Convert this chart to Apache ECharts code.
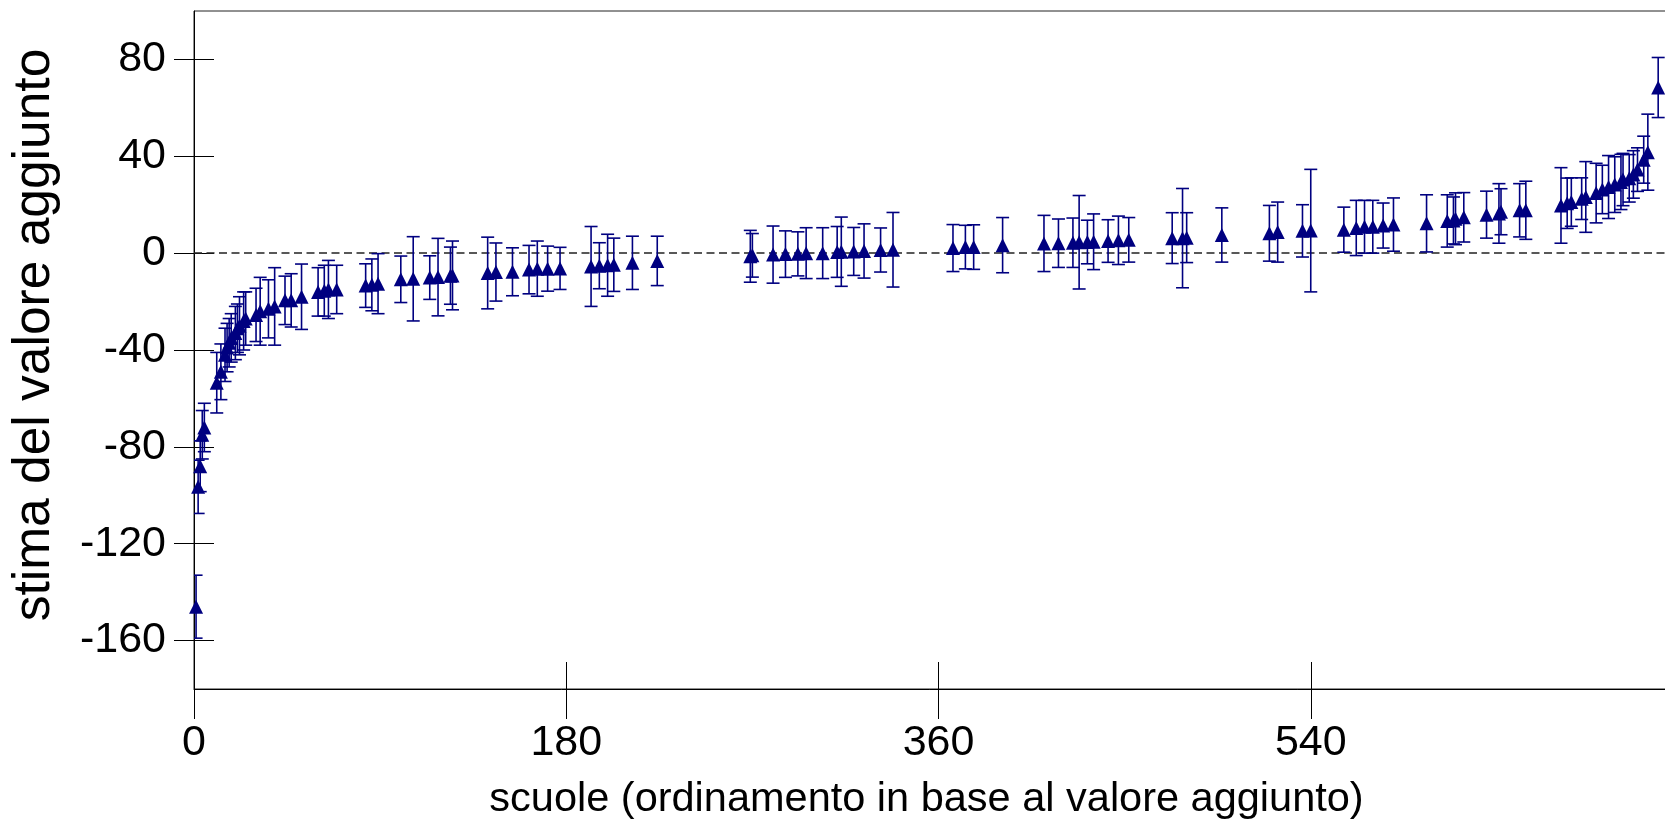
<!DOCTYPE html>
<html>
<head>
<meta charset="utf-8">
<script src="https://cdn.jsdelivr.net/npm/echarts@6/dist/echarts.min.js"></script>
<style>
html,body{margin:0;padding:0;background:#fff;}
#chart{width:1665px;height:825px;}
</style>
</head>
<body>
<div id="chart"></div>
<script>
// School rank (ordered by value added)
const rank = [
  1,2,3,4,5,11,13,15,16,17,18,20,21,22,24,25,30,32,36,39,44,47,52,60,63,65,69,
  83,86,89,100,106,114,118,124,125,142,146,154,162,166,171,177,192,196,200,203,212,224,
  269,270,280,286,292,296,304,311,313,319,324,332,338,
  367,373,377,391,
  411,418,425,428,432,435,442,447,452,
  473,478,480,497,
  520,524,536,540,
  556,562,566,570,575,580,
  596,606,609,610,614,
  625,631,632,641,644,
  661,664,666,671,673,678,681,684,687,690,691,694,696,698,701,703,708
];
// Estimated value added
const estimate = [
  -146,-96.5,-88,-75,-72,-53.5,-49,-42,-39,-37,-35,-33,-31,-30,-28,-27,-25.5,-24,-23,-22,-19.5,-19.5,-18,-16,-15.5,-15,-15,
  -13.4,-13.1,-12.6,-10.8,-10.6,-10.1,-9.9,-9.3,-9.2,-8.2,-7.8,-7.7,-6.8,-6.4,-6.4,-6.3,-5.5,-5.2,-5,-4.8,-4,-3.2,
  -1.3,-0.9,-0.6,-0.4,-0.3,0,0,0.5,0.6,0.7,0.9,1.3,1.4,
  2.1,2.5,2.5,3.3,
  4,4.1,4.3,4.5,4.6,4.7,5,5.3,5.5,
  6.2,6.2,6.4,7.5,
  8.2,8.7,9.2,9.3,
  9.7,10.4,10.9,10.9,11.4,11.8,
  12.3,13.3,13.5,14.2,14.8,
  15.9,16.4,17.1,17.7,17.7,
  19.7,20.6,21.1,22.5,23.2,24.8,26.3,27.3,28.3,29.4,30.4,30.9,32.5,34.5,38.6,41.7,68.4
];
// Half width of the confidence interval
const halfCI = [
  13,11,10.5,10,10,12.5,11.5,11,10,10,10,11,10,12,12,11,11,14,12,16,10,11,13.5,10,10.5,12,10,
  9,10.7,12.4,9.6,17.4,9,16,11.8,14.2,14.8,12,9.9,10,11.4,9.3,8.7,16.5,9.5,12.8,11,11,10.2,
  10.7,9,11.8,9.6,9.1,10.5,10.5,10.5,14.3,9.9,11.2,9.1,15.4,
  9.7,9,9.2,11.4,
  11.6,10,10.2,19.3,9,11.5,8.8,10,9.2,
  10.5,20.5,10.3,11.2,
  11.5,12.4,10.8,25.3,
  9.3,11.4,10.9,10.9,9.3,11,
  11.8,10.8,9.7,10.7,10.2,
  9.7,12.3,9.5,11,12,
  15.6,10.4,10,8.6,14.6,12.3,10,13,11.5,11.4,10.8,9.8,9.8,9,9.7,15.7,12.4
];
const xTicks = [0, 180, 360, 540];
const yTicks = [-160, -120, -80, -40, 0, 40, 80];
const xTitle = 'scuole (ordinamento in base al valore aggiunto)';
const yTitle = 'stima del valore aggiunto';

const FONT = '"Liberation Sans", Arial, Helvetica, sans-serif';
const NAVY = '#000080';

const pointData = rank.map((r, i) => [r, estimate[i]]);
const barData = rank.map((r, i) => [r, estimate[i] - halfCI[i], estimate[i] + halfCI[i]]);

const chart = echarts.init(document.getElementById('chart'), null, {renderer: 'canvas'});

const option = {
  animation: false,
  backgroundColor: '#ffffff',
  grid: {
    left: 194, top: 11, width: 1489, height: 678,
    outerBoundsMode: 'none', containLabel: false,
    show: true, borderColor: '#222', borderWidth: 1, backgroundColor: 'transparent'
  },
  xAxis: [
    {
      type: 'value', min: 0, max: 720, interval: 180, position: 'bottom',
      axisLine: {show: true, onZero: false, lineStyle: {color: '#000', width: 1}},
      axisTick: {show: true, inside: false, length: 30, customValues: xTicks, lineStyle: {color: '#000', width: 1}},
      axisLabel: {customValues: xTicks, margin: 33, fontSize: 43, color: '#000', fontFamily: FONT},
      splitLine: {show: false},
      name: xTitle, nameLocation: 'middle', nameGap: 90,
      nameTextStyle: {fontSize: 41.5, color: '#000', fontFamily: FONT, padding: [0, 24, 0, 0]}
    },
    {
      type: 'value', min: 0, max: 720, interval: 180, position: 'bottom',
      axisLine: {show: false, onZero: false},
      axisTick: {show: true, inside: true, length: 27, customValues: xTicks, lineStyle: {color: '#000', width: 1}},
      axisLabel: {show: false},
      splitLine: {show: false}
    }
  ],
  yAxis: [
    {
      type: 'value', min: -180, max: 100, position: 'left',
      axisLine: {show: true, onZero: false, lineStyle: {color: '#000', width: 1}},
      axisTick: {show: true, inside: false, length: 20, customValues: yTicks, lineStyle: {color: '#000', width: 1}},
      axisLabel: {customValues: yTicks, margin: 28, fontSize: 43, color: '#000', fontFamily: FONT},
      splitLine: {show: false},
      name: yTitle, nameLocation: 'middle', nameGap: 133,
      nameTextStyle: {fontSize: 51.5, color: '#000', fontFamily: FONT, padding: [0, 0, 0, 30]}
    },
    {
      type: 'value', min: -180, max: 100, position: 'left',
      axisLine: {show: false, onZero: false},
      axisTick: {show: true, inside: true, length: 20, customValues: yTicks, lineStyle: {color: '#000', width: 1}},
      axisLabel: {show: false},
      splitLine: {show: false}
    }
  ],
  series: [
    {
      type: 'custom',
      xAxisIndex: 0, yAxisIndex: 0,
      clip: true,
      data: barData,
      encode: {x: 0, y: [1, 2]},
      renderItem: function (params, api) {
        const x = api.value(0);
        const lo = api.coord([x, api.value(1)]);
        const hi = api.coord([x, api.value(2)]);
        const hw = 6.5;
        const style = {stroke: NAVY, lineWidth: 1.6, fill: null};
        return {
          type: 'group',
          children: [
            {type: 'line', shape: {x1: lo[0], y1: lo[1], x2: hi[0], y2: hi[1]}, style: style},
            {type: 'line', shape: {x1: lo[0] - hw, y1: lo[1], x2: lo[0] + hw, y2: lo[1]}, style: style},
            {type: 'line', shape: {x1: hi[0] - hw, y1: hi[1], x2: hi[0] + hw, y2: hi[1]}, style: style}
          ]
        };
      },
      z: 2
    },
    {
      type: 'scatter',
      xAxisIndex: 0, yAxisIndex: 0,
      data: pointData,
      symbol: 'triangle',
      symbolSize: [14, 14],
      itemStyle: {color: NAVY, opacity: 1},
      z: 3,
      markLine: {
        silent: true,
        symbol: 'none',
        label: {show: false},
        lineStyle: {type: [8, 4.5], color: '#222', width: 1.5},
        data: [{yAxis: 0}],
        z: 1
      }
    }
  ]
};
chart.setOption(option);
</script>
</body>
</html>
